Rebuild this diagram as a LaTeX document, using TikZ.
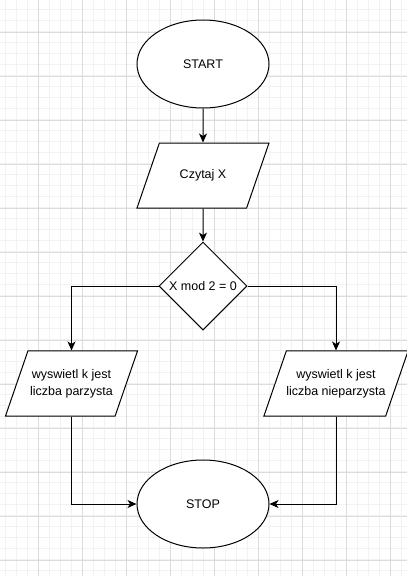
\documentclass[tikz,border=0pt]{standalone}
\usepackage{fontspec}
\setmainfont{Liberation Sans}
\usetikzlibrary{arrows.meta, positioning, shapes.geometric}
\definecolor{gridminor}{HTML}{F2F2F2}
\definecolor{gridmajor}{HTML}{DCDCDC}
\tikzset{
  block/.style = {draw, line width=1pt, fill=white, align=center,
                  font=\fontsize{12.5}{17}\selectfont, inner sep=0pt},
  terminal/.style = {block, ellipse, minimum width=132pt, minimum height=88pt},
  io/.style = {block, trapezium, trapezium left angle=71,
               trapezium right angle=109, trapezium stretches body,
               minimum width=132pt},
  one line/.style = {inner ysep=26.7pt},
  two lines/.style = {inner ysep=18.2pt},
  decision/.style = {block, diamond, minimum width=88pt, minimum height=88pt},
  flow/.style = {line width=1pt, arrows={-Stealth[length=9pt, width=8pt, inset=2.5pt]}},
  minor line/.style = {line width=0.6pt, gridminor},
  major line/.style = {line width=0.8pt, gridmajor},
}
\begin{document}
\begin{tikzpicture}[x=1pt, y=-1pt]
  \useasboundingbox (0,0) rectangle (407,576);
  \fill [white] (0,0) rectangle (407,576);

  %% Background grid
  \foreach \x in {5,16,...,406}{%
    \draw [minor line] (\x,0) -- (\x,576);
  }
  \foreach \y in {9,20,...,575}{%
    \draw [minor line] (0,\y) -- (407,\y);
  }
  \foreach \x in {38,82,...,390}{%
    \draw [major line] (\x,0) -- (\x,576);
  }
  \foreach \y in {32,76,...,560}{%
    \draw [major line] (0,\y) -- (407,\y);
  }

  %% Main column
  \node [terminal] (start) at (203,64) {START};
  \node [io, one line, below=34pt of start] (read) {Czytaj X};
  \node [decision, below=33pt of read] (check) {X mod 2 = 0};

  %% The two branches
  \node [io, two lines] (even) at (71.5,383.5) {wyswietl k jest\\liczba parzysta};
  \node [io, two lines] (odd) at (336,383.5) {wyswietl k jest\\liczba nieparzysta};
  \node [terminal] (stop) at (203,504) {STOP};

  %% Connect them together
  \draw [flow] (start) -- (read);
  \draw [flow] (read) -- (check);
  \draw [flow] (check.west) -| (even.north);
  \draw [flow] (check.east) -| (odd.north);
  \draw [flow] (even.south) |- (stop.west);
  \draw [flow] (odd.south) |- (stop.east);
\end{tikzpicture}
\end{document}
